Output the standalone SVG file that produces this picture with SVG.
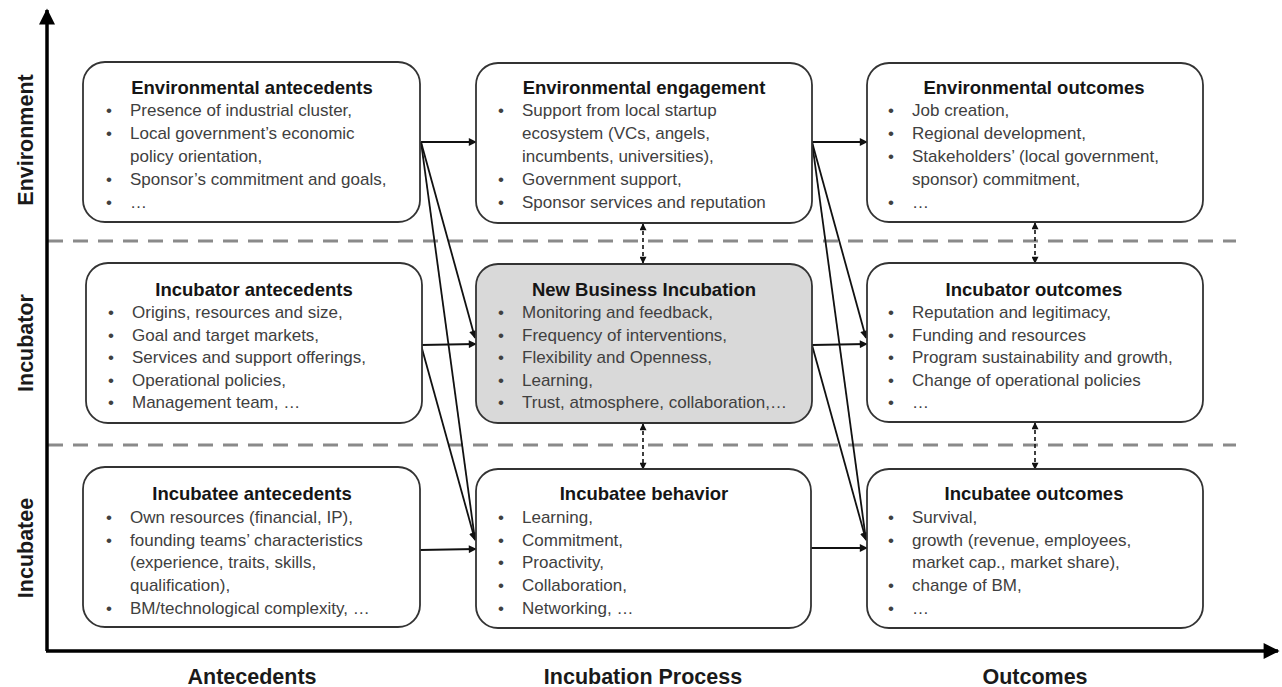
<svg xmlns="http://www.w3.org/2000/svg" width="1282" height="687" viewBox="0 0 1282 687">
<defs>
<marker id="ah" viewBox="0 0 10 10" refX="9" refY="5" markerWidth="9" markerHeight="8" markerUnits="userSpaceOnUse" orient="auto"><path d="M0,0 L10,5 L0,10 z" fill="#111"/></marker>
<marker id="ahs" viewBox="0 0 10 10" refX="9" refY="5" markerWidth="8" markerHeight="7" markerUnits="userSpaceOnUse" orient="auto-start-reverse"><path d="M0,0 L10,5 L0,10 z" fill="#111"/></marker>
<marker id="axh" viewBox="0 0 10 10" refX="9" refY="5" markerWidth="20" markerHeight="16" markerUnits="userSpaceOnUse" orient="auto"><path d="M0,0 L10,5 L0,10 z" fill="#000"/></marker>
<style>
.box{fill:#fff;stroke:#333;stroke-width:1.8}
.gray{fill:#d9d9d9}
.t{font-family:"Liberation Sans",Arial,sans-serif;font-weight:bold;font-size:18.5px;fill:#151515;text-anchor:middle}
.b{font-family:"Liberation Sans",Arial,sans-serif;font-size:17px;fill:#404040}
.ax{font-family:"Liberation Sans",Arial,sans-serif;font-weight:bold;font-size:21.5px;fill:#1a1a1a;text-anchor:middle}
.sep{stroke:#8a8a8a;stroke-width:3;stroke-dasharray:15 10;fill:none}
.c{stroke:#111;stroke-width:1.8;fill:none}
.d{stroke:#111;stroke-width:1.6;stroke-dasharray:4 3;fill:none}
.axis{stroke:#000;stroke-width:3.5;fill:none}
</style>
</defs>
<rect width="1282" height="687" fill="#fff"/>

<g id="separators">
<line class="sep" x1="48" y1="241" x2="1236" y2="241"/>
<line class="sep" x1="48" y1="445" x2="1236" y2="445"/>
</g>

<g id="axes">
<line class="axis" x1="47" y1="651" x2="47" y2="10" marker-end="url(#axh)"/>
<line class="axis" x1="46" y1="651" x2="1278" y2="651" marker-end="url(#axh)"/>
<text class="ax" transform="translate(33,140) rotate(-90)">Environment</text>
<text class="ax" transform="translate(33,343) rotate(-90)">Incubator</text>
<text class="ax" transform="translate(33,548) rotate(-90)">Incubatee</text>
<text class="ax" x="252" y="684">Antecedents</text>
<text class="ax" x="643" y="684">Incubation Process</text>
<text class="ax" x="1035" y="684">Outcomes</text>
</g>

<g id="connectors">
<line class="c" x1="421" y1="142" x2="476" y2="142" marker-end="url(#ah)"/>
<line class="c" x1="421" y1="142" x2="475" y2="338" marker-end="url(#ah)"/>
<line class="c" x1="421" y1="142" x2="475" y2="540" marker-end="url(#ah)"/>
<line class="c" x1="421" y1="345" x2="476" y2="344" marker-end="url(#ah)"/>
<line class="c" x1="421" y1="345" x2="475" y2="540" marker-end="url(#ah)"/>
<line class="c" x1="420" y1="550" x2="476" y2="549" marker-end="url(#ah)"/>
<line class="c" x1="812" y1="142" x2="867" y2="142" marker-end="url(#ah)"/>
<line class="c" x1="812" y1="142" x2="866" y2="338" marker-end="url(#ah)"/>
<line class="c" x1="812" y1="142" x2="866" y2="540" marker-end="url(#ah)"/>
<line class="c" x1="812" y1="345" x2="867" y2="344" marker-end="url(#ah)"/>
<line class="c" x1="812" y1="345" x2="866" y2="540" marker-end="url(#ah)"/>
<line class="c" x1="811" y1="548" x2="867" y2="548" marker-end="url(#ah)"/>
<line class="d" x1="643" y1="224" x2="643" y2="263" marker-start="url(#ahs)" marker-end="url(#ahs)"/>
<line class="d" x1="643" y1="424" x2="643" y2="469" marker-start="url(#ahs)" marker-end="url(#ahs)"/>
<line class="d" x1="1035" y1="223" x2="1035" y2="263" marker-start="url(#ahs)" marker-end="url(#ahs)"/>
<line class="d" x1="1035" y1="423" x2="1035" y2="469" marker-start="url(#ahs)" marker-end="url(#ahs)"/>
</g>

<g id="env-antecedents">
<rect class="box" x="83" y="62" width="337" height="160" rx="22"/>
<text class="t" x="252" y="94">Environmental antecedents</text>
<text class="b"><tspan x="106" y="116">•</tspan><tspan x="130" y="116">Presence of industrial cluster,</tspan><tspan x="106" y="139">•</tspan><tspan x="130" y="139">Local government’s economic</tspan><tspan x="130" y="162">policy orientation,</tspan><tspan x="106" y="185">•</tspan><tspan x="130" y="185">Sponsor’s commitment and goals,</tspan><tspan x="106" y="208">•</tspan><tspan x="130" y="208">…</tspan></text>
</g>

<g id="env-engagement">
<rect class="box" x="476" y="63" width="336" height="160" rx="22"/>
<text class="t" x="644" y="94">Environmental engagement</text>
<text class="b"><tspan x="498" y="116">•</tspan><tspan x="522" y="116">Support from local startup</tspan><tspan x="522" y="139">ecosystem (VCs, angels,</tspan><tspan x="522" y="162">incumbents, universities),</tspan><tspan x="498" y="185">•</tspan><tspan x="522" y="185">Government support,</tspan><tspan x="498" y="208">•</tspan><tspan x="522" y="208">Sponsor services and reputation</tspan></text>
</g>

<g id="env-outcomes">
<rect class="box" x="867" y="63" width="336" height="159" rx="22"/>
<text class="t" x="1034" y="94">Environmental outcomes</text>
<text class="b"><tspan x="888" y="116">•</tspan><tspan x="912" y="116">Job creation,</tspan><tspan x="888" y="139">•</tspan><tspan x="912" y="139">Regional development,</tspan><tspan x="888" y="162">•</tspan><tspan x="912" y="162">Stakeholders’ (local government,</tspan><tspan x="912" y="185">sponsor) commitment,</tspan><tspan x="888" y="208">•</tspan><tspan x="912" y="208">…</tspan></text>
</g>

<g id="incubator-antecedents">
<rect class="box" x="86" y="263" width="336" height="160" rx="22"/>
<text class="t" x="254" y="296">Incubator antecedents</text>
<text class="b"><tspan x="108" y="318">•</tspan><tspan x="132" y="318">Origins, resources and size,</tspan><tspan x="108" y="341">•</tspan><tspan x="132" y="341">Goal and target markets,</tspan><tspan x="108" y="363">•</tspan><tspan x="132" y="363">Services and support offerings,</tspan><tspan x="108" y="386">•</tspan><tspan x="132" y="386">Operational policies,</tspan><tspan x="108" y="408">•</tspan><tspan x="132" y="408">Management team, …</tspan></text>
</g>

<g id="new-business-incubation">
<rect class="box gray" x="476" y="264" width="336" height="159" rx="22"/>
<text class="t" x="644" y="296">New Business Incubation</text>
<text class="b"><tspan x="498" y="318">•</tspan><tspan x="522" y="318">Monitoring and feedback,</tspan><tspan x="498" y="341">•</tspan><tspan x="522" y="341">Frequency of interventions,</tspan><tspan x="498" y="363">•</tspan><tspan x="522" y="363">Flexibility and Openness,</tspan><tspan x="498" y="386">•</tspan><tspan x="522" y="386">Learning,</tspan><tspan x="498" y="408">•</tspan><tspan x="522" y="408">Trust, atmosphere, collaboration,…</tspan></text>
</g>

<g id="incubator-outcomes">
<rect class="box" x="867" y="263" width="336" height="159" rx="22"/>
<text class="t" x="1034" y="296">Incubator outcomes</text>
<text class="b"><tspan x="888" y="318">•</tspan><tspan x="912" y="318">Reputation and legitimacy,</tspan><tspan x="888" y="341">•</tspan><tspan x="912" y="341">Funding and resources</tspan><tspan x="888" y="363">•</tspan><tspan x="912" y="363">Program sustainability and growth,</tspan><tspan x="888" y="386">•</tspan><tspan x="912" y="386">Change of operational policies</tspan><tspan x="888" y="408">•</tspan><tspan x="912" y="408">…</tspan></text>
</g>

<g id="incubatee-antecedents">
<rect class="box" x="83" y="467" width="337" height="160" rx="22"/>
<text class="t" x="252" y="500">Incubatee antecedents</text>
<text class="b"><tspan x="106" y="523">•</tspan><tspan x="130" y="523">Own resources (financial, IP),</tspan><tspan x="106" y="546">•</tspan><tspan x="130" y="546">founding teams’ characteristics</tspan><tspan x="130" y="568">(experience, traits, skills,</tspan><tspan x="130" y="591">qualification),</tspan><tspan x="106" y="614">•</tspan><tspan x="130" y="614">BM/technological complexity, …</tspan></text>
</g>

<g id="incubatee-behavior">
<rect class="box" x="476" y="469" width="335" height="159" rx="22"/>
<text class="t" x="644" y="500">Incubatee behavior</text>
<text class="b"><tspan x="498" y="523">•</tspan><tspan x="522" y="523">Learning,</tspan><tspan x="498" y="546">•</tspan><tspan x="522" y="546">Commitment,</tspan><tspan x="498" y="568">•</tspan><tspan x="522" y="568">Proactivity,</tspan><tspan x="498" y="591">•</tspan><tspan x="522" y="591">Collaboration,</tspan><tspan x="498" y="614">•</tspan><tspan x="522" y="614">Networking, …</tspan></text>
</g>

<g id="incubatee-outcomes">
<rect class="box" x="867" y="469" width="336" height="159" rx="22"/>
<text class="t" x="1034" y="500">Incubatee outcomes</text>
<text class="b"><tspan x="888" y="523">•</tspan><tspan x="912" y="523">Survival,</tspan><tspan x="888" y="546">•</tspan><tspan x="912" y="546">growth (revenue, employees,</tspan><tspan x="912" y="568">market cap., market share),</tspan><tspan x="888" y="591">•</tspan><tspan x="912" y="591">change of BM,</tspan><tspan x="888" y="614">•</tspan><tspan x="912" y="614">…</tspan></text>
</g>
</svg>
